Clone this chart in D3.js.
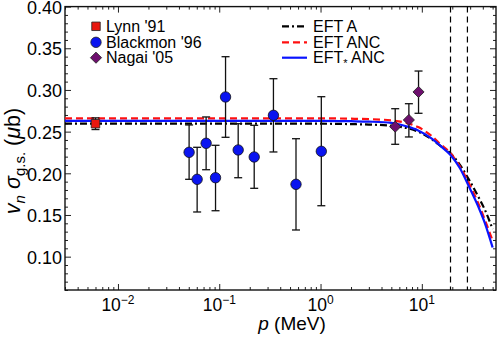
<!DOCTYPE html>
<html>
<head>
<meta charset="utf-8">
<script src="https://d3js.org/d3.v7.min.js"></script>
<style>
  body { margin: 0; background: #fff; }
  svg { font-family: 'Liberation Sans', Arial, Helvetica, sans-serif; }
</style>
</head>
<body>
<div id="chart"></div>
<script>
// data
const lynnP = [0.006];
const lynnV = [0.2595];
const lynnLo = [0.2525];
const lynnHi = [0.2665];

const blackmonP  = [0.0504, 0.0605, 0.0742, 0.0919, 0.1154, 0.1538, 0.2214, 0.3428, 0.5725, 1.018];
const blackmonV  = [0.2252, 0.1928, 0.2360, 0.1947, 0.2916, 0.2280, 0.2196, 0.2696, 0.1868, 0.2264];
const blackmonLo = [0.1928, 0.1536, 0.2043, 0.1551, 0.2432, 0.1947, 0.1820, 0.2256, 0.1320, 0.1611];
const blackmonHi = [0.2580, 0.2312, 0.2676, 0.2336, 0.3399, 0.2595, 0.2576, 0.3135, 0.2415, 0.2919];

const nagaiP  = [5.46, 7.45, 9.28];
const nagaiV  = [0.2559, 0.2640, 0.2976];
const nagaiLo = [0.2348, 0.2436, 0.2720];
const nagaiHi = [0.2775, 0.2835, 0.3227];

const curveP  = [0.003, 0.1, 1, 2, 3, 5, 7, 9.2, 12.45, 15.6, 19.2, 23.8, 28.7, 36.1, 42, 50];
const eftA    = [0.2595, 0.2595, 0.2595, 0.259, 0.2585, 0.257, 0.2545, 0.250, 0.241, 0.232, 0.224, 0.210, 0.194, 0.172, 0.156, 0.133];
const eftANC  = [0.266, 0.266, 0.266, 0.2655, 0.265, 0.2635, 0.2605, 0.2555, 0.245, 0.234, 0.224, 0.208, 0.190, 0.164, 0.144, 0.119];
const eftSANC = [0.263, 0.263, 0.263, 0.2625, 0.262, 0.2605, 0.2565, 0.2515, 0.242, 0.232, 0.222, 0.206, 0.186, 0.160, 0.140, 0.111];

const cutoffs = [19.2, 28.2];

const yMajor = [0.10, 0.15, 0.20, 0.25, 0.30, 0.35, 0.40];
const yLabels = ['0.10', '0.15', '0.20', '0.25', '0.30', '0.35', '0.40'];
const xMajor = [0.01, 0.1, 1, 10];
const xExp = ['\u22122', '\u22121', '0', '1'];

const w = 498, h = 340;
const mLeft = 65, mRight = 496, mTop = 6.6, mBottom = 290;

const x = d3.scaleLog().domain([0.003, 54]).range([mLeft, mRight]);
const y = d3.scaleLinear().domain([0.06, 0.40]).range([mBottom, mTop]);

const svg = d3.select('#chart').append('svg')
    .attr('width', w).attr('height', h);

// minor ticks
const xMinor = [];
[0.001, 0.01, 0.1, 1, 10].forEach(d => {
  for (let k = 2; k <= 9; k++) {
    const v = d * k;
    if (v >= 0.003 && v <= 54) xMinor.push(v);
  }
});
const yMinor = d3.range(6, 41).map(d => d / 100).filter(d => d % 0.05 > 0.001 && d % 0.05 < 0.049);

function ticks(axisFn, scale, vals, size, transform) {
  const g = svg.append('g')
      .attr('transform', transform)
      .call(axisFn(scale).tickValues(vals).tickSize(-size).tickFormat(''));
  g.select('.domain').remove();
  g.selectAll('line').attr('stroke', '#222').attr('stroke-width', 1);
}
ticks(d3.axisBottom, x, xMajor, 6, 'translate(0,' + mBottom + ')');
ticks(d3.axisBottom, x, xMinor, 3, 'translate(0,' + mBottom + ')');
ticks(d3.axisTop, x, xMajor, 6, 'translate(0,' + mTop + ')');
ticks(d3.axisTop, x, xMinor, 3, 'translate(0,' + mTop + ')');
ticks(d3.axisLeft, y, yMajor, 6, 'translate(' + mLeft + ',0)');
ticks(d3.axisLeft, y, yMinor, 3, 'translate(' + mLeft + ',0)');
ticks(d3.axisRight, y, yMajor, 6, 'translate(' + mRight + ',0)');
ticks(d3.axisRight, y, yMinor, 3, 'translate(' + mRight + ',0)');

svg.append('rect')
   .attr('x', mLeft).attr('y', mTop)
   .attr('width', mRight - mLeft).attr('height', mBottom - mTop)
   .attr('fill', 'none').attr('stroke', '#111').attr('stroke-width', 1.4);

// tick labels
svg.selectAll('.ylab').data(yMajor).enter().append('text')
   .attr('x', mLeft - 3).attr('y', d => y(d) + 7.2)
   .attr('text-anchor', 'end').attr('font-size', 18)
   .text((d, i) => yLabels[i]);

const xl = svg.selectAll('.xlab').data(xMajor).enter().append('text')
   .attr('x', d => x(d)).attr('y', 311)
   .attr('text-anchor', 'middle').attr('font-size', 17.5);
xl.append('tspan').text('10');
xl.append('tspan').attr('dy', -7).attr('font-size', 12).text((d, i) => xExp[i]);

// axis titles
const xt = svg.append('text').attr('x', 292).attr('y', 330)
   .attr('text-anchor', 'middle').attr('font-size', 19);
xt.append('tspan').attr('font-style', 'italic').text('p');
xt.append('tspan').text(' (MeV)');

const yt = svg.append('text')
   .attr('transform', 'translate(20,161) rotate(-90)')
   .attr('text-anchor', 'middle').attr('font-size', 21.5);
yt.append('tspan').attr('font-style', 'italic').text('v');
yt.append('tspan').attr('font-style', 'italic').attr('font-size', 15).attr('dy', 5).text('n');
yt.append('tspan').attr('dy', -5).text(' ');
yt.append('tspan').attr('font-style', 'italic').text('\u03c3');
yt.append('tspan').attr('font-size', 15).attr('dy', 5).text('g.s.');
yt.append('tspan').attr('dy', -5).text(' (');
yt.append('tspan').attr('font-style', 'italic').text('\u03bc');
yt.append('tspan').text('b)');

// cutoff lines
svg.selectAll('.cut').data(cutoffs).enter().append('line')
   .attr('x1', d => x(d)).attr('x2', d => x(d))
   .attr('y1', mTop).attr('y2', mBottom)
   .attr('stroke', '#000').attr('stroke-width', 1.2)
   .attr('stroke-dasharray', '6,4');

// theory curves
const line = vals => d3.line()
   .x((d, i) => x(curveP[i]))
   .y(d => y(d))
   .curve(d3.curveMonotoneX)(vals);

svg.append('path').attr('d', line(eftA))
   .attr('fill', 'none').attr('stroke', '#000').attr('stroke-width', 2.2)
   .attr('stroke-dasharray', '7,3,2,3');
svg.append('path').attr('d', line(eftANC))
   .attr('fill', 'none').attr('stroke', '#ff1010').attr('stroke-width', 2.2)
   .attr('stroke-dasharray', '7,4');
svg.append('path').attr('d', line(eftSANC))
   .attr('fill', 'none').attr('stroke', '#0a14ff').attr('stroke-width', 2.2);

// error bars
function errorBars(ps, lo, hi) {
  const g = svg.append('g').attr('stroke', '#111').attr('stroke-width', 1.3);
  ps.forEach((p, i) => {
    const cx = x(p);
    g.append('line').attr('x1', cx).attr('x2', cx).attr('y1', y(lo[i])).attr('y2', y(hi[i]));
    g.append('line').attr('x1', cx - 4).attr('x2', cx + 4).attr('y1', y(lo[i])).attr('y2', y(lo[i]));
    g.append('line').attr('x1', cx - 4).attr('x2', cx + 4).attr('y1', y(hi[i])).attr('y2', y(hi[i]));
  });
}
errorBars(lynnP, lynnLo, lynnHi);
errorBars(blackmonP, blackmonLo, blackmonHi);
errorBars(nagaiP, nagaiLo, nagaiHi);

const square = d3.symbol().type(d3.symbolSquare).size(72);
const circle = d3.symbol().type(d3.symbolCircle).size(85);
const diamond = d3.symbol().type(d3.symbolSquare).size(62);

svg.selectAll('.lynn').data(lynnP).enter().append('path')
   .attr('d', square).attr('transform', (d, i) => 'translate(' + x(d) + ',' + y(lynnV[i]) + ')')
   .attr('fill', '#e8170f').attr('stroke', '#222').attr('stroke-width', 0.8);
svg.selectAll('.bl').data(blackmonP).enter().append('path')
   .attr('d', circle).attr('transform', (d, i) => 'translate(' + x(d) + ',' + y(blackmonV[i]) + ')')
   .attr('fill', '#0a14f0').attr('stroke', '#111').attr('stroke-width', 0.8);
svg.selectAll('.ng').data(nagaiP).enter().append('path')
   .attr('d', diamond).attr('transform', (d, i) => 'translate(' + x(d) + ',' + y(nagaiV[i]) + ') rotate(45)')
   .attr('fill', '#6e0f6e').attr('stroke', '#222').attr('stroke-width', 0.8);

// legends
const leg1 = [
  {label: "Lynn '91", sym: square, fill: '#e8170f', rot: 0},
  {label: "Blackmon '96", sym: circle, fill: '#0a14f0', rot: 0},
  {label: "Nagai '05", sym: diamond, fill: '#6e0f6e', rot: 45}
];
const legY = [26.3, 42.3, 57.7];
leg1.forEach((d, i) => {
  svg.append('path').attr('d', d.sym).attr('transform', 'translate(96,' + legY[i] + ') rotate(' + d.rot + ')')
     .attr('fill', d.fill).attr('stroke', '#222').attr('stroke-width', 0.8);
  svg.append('text').attr('x', 106).attr('y', legY[i] + 5.5).attr('font-size', 16).text(d.label);
});

const leg2 = [
  {stroke: '#000', dash: '7,3,2,3'},
  {stroke: '#ff1010', dash: '7,4'},
  {stroke: '#0a14ff', dash: null}
];
leg2.forEach((d, i) => {
  svg.append('line').attr('x1', 282).attr('x2', 307).attr('y1', legY[i]).attr('y2', legY[i])
     .attr('stroke', d.stroke).attr('stroke-width', 2.2).attr('stroke-dasharray', d.dash);
});
const t1 = svg.append('text').attr('x', 313).attr('y', legY[0] + 5.5).attr('font-size', 16).text('EFT A');
const t2 = svg.append('text').attr('x', 313).attr('y', legY[1] + 5.5).attr('font-size', 16).text('EFT ANC');
const t3 = svg.append('text').attr('x', 313).attr('y', legY[2] + 5.5).attr('font-size', 16);
t3.append('tspan').text('EFT');
t3.append('tspan').attr('font-size', 11).attr('dy', 4).text('*');
t3.append('tspan').attr('dy', -4).text(' ANC');
</script>
</body>
</html>
